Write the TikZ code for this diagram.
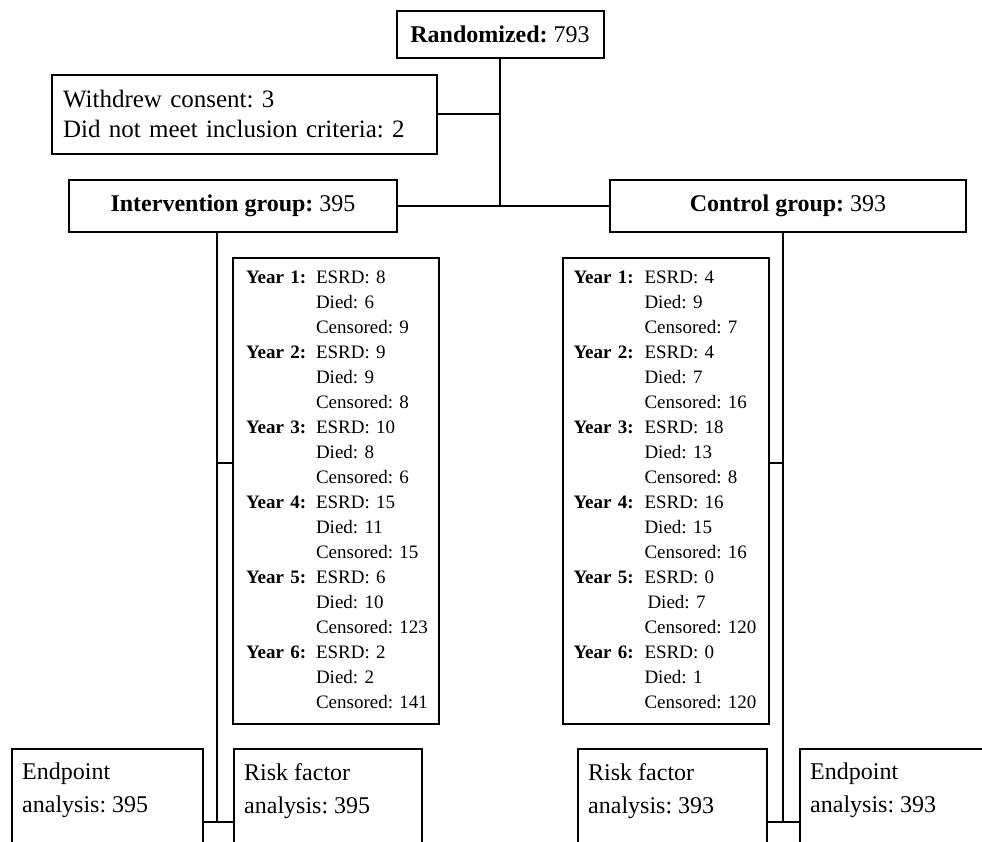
\documentclass[tikz,border=0pt]{standalone}
\usepackage{fontspec}
\setmainfont{Liberation Serif}
\frenchspacing
\usetikzlibrary{calc}
\begin{document}
\begin{tikzpicture}[x=1pt,y=-1pt,
  frame/.style={draw=black, line width=2pt, inner sep=0pt},
  link/.style={draw=black, line width=2pt},
  headfont/.style={font=\fontsize{24}{28}\selectfont},
  notefont/.style={font=\fontsize{25}{30}\selectfont},
  yearfont/.style={font=\fontsize{19}{25}\selectfont},
  endfont/.style={font=\fontsize{24}{33}\selectfont},
  yearbox/.style={frame, anchor=north west, minimum width=206pt,
    minimum height=466pt, align=left, yearfont},
  endbox/.style={frame, anchor=north west, minimum height=120pt},
  endtext/.style={anchor=north west, inner sep=0pt, align=left, endfont}
]
\useasboundingbox (0,0) rectangle (982,842);
\clip (0,0) rectangle (982,842);

% top of the flow
\node[frame, minimum width=207pt, minimum height=47pt, headfont] (rand)
  at (500,34.5) {\textbf{Randomized:} 793};
\node[frame, minimum width=385pt, minimum height=79pt, inner xsep=11pt,
  text width=363pt, align=left, notefont] (withdrew)
  at (244.5,114.5) {Withdrew consent: 3\\Did not meet inclusion criteria: 2};
\node[frame, minimum width=328pt, minimum height=52pt, headfont] (interv)
  at (233,206) {\textbf{Intervention group:} 395};
\node[frame, minimum width=356pt, minimum height=52pt, headfont] (ctrl)
  at (788,206) {\textbf{Control group:} 393};

% yearly follow-up, intervention arm
\node[yearbox, inner xsep=13pt, text width=180pt] (yrL) at (232,257) {%
\begin{tabular}{@{}p{70pt}@{}l@{}}
\textbf{Year 1:} & ESRD: 8\\
 & Died: 6\\
 & Censored: 9\\
\textbf{Year 2:} & ESRD: 9\\
 & Died: 9\\
 & Censored: 8\\
\textbf{Year 3:} & ESRD: 10\\
 & Died: 8\\
 & Censored: 6\\
\textbf{Year 4:} & ESRD: 15\\
 & Died: 11\\
 & Censored: 15\\
\textbf{Year 5:} & ESRD: 6\\
 & Died: 10\\
 & Censored: 123\\
\textbf{Year 6:} & ESRD: 2\\
 & Died: 2\\
 & Censored: 141
\end{tabular}};

% yearly follow-up, control arm
\node[yearbox, inner xsep=10pt, text width=185pt] (yrR) at (562,257) {%
\begin{tabular}{@{}p{71pt}@{}l@{}}
\textbf{Year 1:} & ESRD: 4\\
 & Died: 9\\
 & Censored: 7\\
\textbf{Year 2:} & ESRD: 4\\
 & Died: 7\\
 & Censored: 16\\
\textbf{Year 3:} & ESRD: 18\\
 & Died: 13\\
 & Censored: 8\\
\textbf{Year 4:} & ESRD: 16\\
 & Died: 15\\
 & Censored: 16\\
\textbf{Year 5:} & ESRD: 0\\
 & \hspace{3pt}Died: 7\\
 & Censored: 120\\
\textbf{Year 6:} & ESRD: 0\\
 & Died: 1\\
 & Censored: 120
\end{tabular}};

% analysis boxes
\node[endbox, minimum width=191pt] (epL) at (11,748) {};
\node[endbox, minimum width=188pt] (rfL) at (233,748) {};
\node[endbox, minimum width=189pt] (rfR) at (577,748) {};
\node[endbox, minimum width=200pt] (epR) at (799,748) {};
\node[endtext] (epLt) at (22,763) {Endpoint\\analysis: 395};
\node[endtext] (rfLt) at (244,763) {Risk factor\\analysis: 395};
\node[endtext] (rfRt) at (588,763) {Risk factor\\analysis: 393};
\node[endtext] (epRt) at (810,763) {Endpoint\\analysis: 393};

% branch points
\coordinate (jn) at (rand.south |- interv.east);
\coordinate (brL) at (217,822);
\coordinate (brR) at (783,822);
\coordinate (tkL) at (217,463);
\coordinate (tkR) at (783,463);

% connectors
\draw[link] (rand.south) -- (jn);
\draw[link] (withdrew.east) -- (withdrew.east -| jn);
\draw[link] (interv.east) -- (ctrl.west);
\draw[link] (interv.south -| brL) -- (brL);
\draw[link] (ctrl.south -| brR) -- (brR);
\draw[link] (tkL) -- (tkL -| yrL.west);
\draw[link] (tkR) -- (tkR -| yrR.east);
\draw[link] (epL.east |- brL) -- (rfL.west |- brL);
\draw[link] (rfR.east |- brR) -- (epR.west |- brR);
\end{tikzpicture}
\end{document}
